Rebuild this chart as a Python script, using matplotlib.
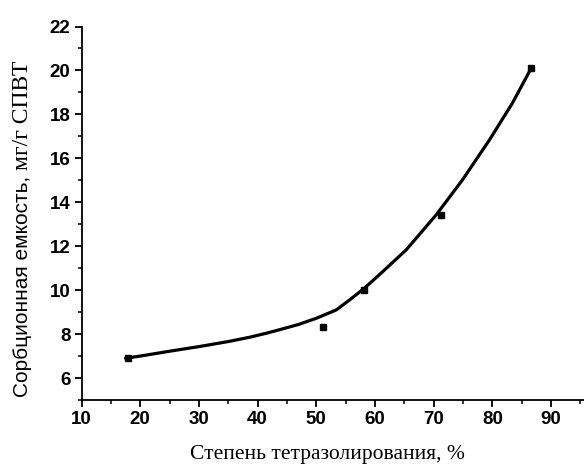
import matplotlib
matplotlib.use("Agg")
import matplotlib.pyplot as plt
from matplotlib.ticker import MultipleLocator

# measured points
x_pts = [18.0, 51.1, 58.2, 71.3, 86.6]
y_pts = [6.92, 8.32, 10.0, 13.4, 20.13]

# fitted curve
x_curve = [17.5, 20, 25, 30, 35, 38.7, 41.5, 44.3, 47, 50, 53.4, 55.7, 58.2, 61.3, 65.3,
           70.4, 74.9, 79.5, 83.4, 86.6]
y_curve = [6.9, 7.0, 7.22, 7.43, 7.66, 7.86, 8.04, 8.24, 8.44, 8.72, 9.1, 9.56, 10.09, 10.84, 11.83,
           13.42, 15.02, 16.84, 18.51, 20.1]

x_ticks = [10, 20, 30, 40, 50, 60, 70, 80, 90]
y_ticks = [6, 8, 10, 12, 14, 16, 18, 20, 22]

xlabel = "Степень тетразолирования, %"
ylabel_a = "Сорбционная емкость, "
ylabel_b = "мг/г СПВТ"

W, H = 584, 468
fig = plt.figure(figsize=(W / 100, H / 100), dpi=100)
left, right, bottom, top = 81.5, 584, 400, 26.5
ax = fig.add_axes([left / W, 1 - bottom / H, (right - left) / W, (bottom - top) / H])

ax.plot(x_curve, y_curve, color="black", lw=2.3, solid_capstyle="round",
        solid_joinstyle="round")
ax.plot(x_pts, y_pts, ls="none", marker="s", ms=5, color="black")

ax.set_xlim(10, 95.6)
ax.set_ylim(5, 22)
ax.set_xticks(x_ticks)
ax.set_yticks(y_ticks)
ax.xaxis.set_minor_locator(MultipleLocator(5))
ax.yaxis.set_minor_locator(MultipleLocator(1))
for s in ("top", "right"):
    ax.spines[s].set_visible(False)
for s in ("left", "bottom"):
    ax.spines[s].set_linewidth(1.3)
ax.tick_params(which="major", direction="out", length=5, width=1.3, labelsize=13.5, pad=3)
ax.tick_params(which="minor", direction="out", length=3, width=1.1)
for lab in ax.get_xticklabels() + ax.get_yticklabels():
    lab.set_fontfamily("Liberation Sans")
    lab.set_fontweight("bold")

fig.text(327.5 / W, 1 - 455 / H, xlabel, ha="center", va="center",
         family="Liberation Serif", fontsize=15.5)
t1 = fig.text(23 / W, 1 - 397 / H, ylabel_a, rotation=90, rotation_mode="anchor",
              ha="left", va="center", family="Liberation Sans", fontsize=15)
fig.canvas.draw()
bb = t1.get_window_extent(renderer=fig.canvas.get_renderer())
fig.text(23 / W, bb.y1 / H, ylabel_b, rotation=90, rotation_mode="anchor",
         ha="left", va="center", family="Liberation Serif", fontsize=17)

fig.savefig("out.png", dpi=100, facecolor="white")
